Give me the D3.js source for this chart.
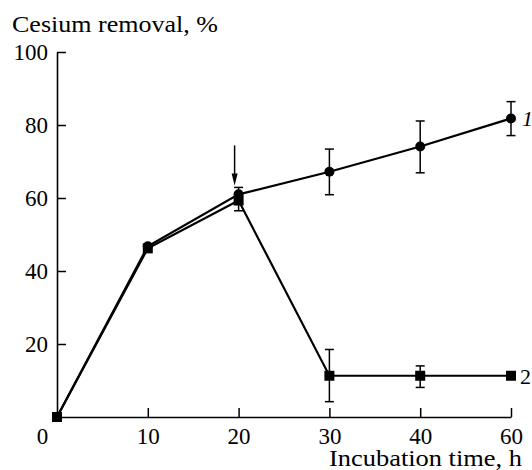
<!DOCTYPE html>
<html>
<head>
<meta charset="utf-8">
<script src="https://cdn.jsdelivr.net/npm/d3@7"></script>
<style>
  body { margin: 0; background: #fff; }
</style>
</head>
<body>
<div id="chart"></div>
<script>
const times = [0, 10, 20, 30, 40, 60];
const yTicks = [20, 40, 60, 80, 100];

// curve 1 (circles)
const series1 = [0, 46.8, 61.0, 67.2, 74.1, 81.8];
const err1Low = [null, null, 56.5, 60.9, 66.9, 77.1];
const err1High = [null, null, 62.9, 73.4, 81.1, 86.4];

// curve 2 (squares)
const series2 = [0, 46.2, 59.3, 11.3, 11.3, 11.3];
const err2Low = [null, null, null, 4.2, 8.1, null];
const err2High = [null, null, null, 18.5, 14.0, null];

const width = 532, height = 470;
const margin = {top: 52, left: 57, right: 21, bottom: 53};
const font = "'Liberation Serif', 'Times New Roman', 'DejaVu Serif', serif";

const svg = d3.select("#chart").append("svg")
  .attr("width", width)
  .attr("height", height)
  .attr("font-family", font);

const x = d3.scalePoint()
  .domain(times)
  .range([margin.left, width - margin.right]);
const y = d3.scaleLinear()
  .domain([0, 100])
  .range([height - margin.bottom, margin.top]);

// axes
const xAxis = svg.append("g")
  .attr("transform", `translate(0,${y(0)})`)
  .call(d3.axisBottom(x).tickSizeInner(-9).tickSizeOuter(0).tickPadding(11));
xAxis.attr("font-family", font).attr("font-size", 23);
xAxis.select(".domain").attr("stroke-width", 1.6);
xAxis.selectAll(".tick line").attr("stroke-width", 1.5);
xAxis.selectAll(".tick").filter(d => d === 0).select("line").remove();
xAxis.selectAll(".tick text")
  .attr("dy", "0.71em")
  .attr("x", d => d === 0 ? -15 : 0);

const yAxis = svg.append("g")
  .attr("transform", `translate(${x(0)},0)`)
  .call(d3.axisLeft(y).tickValues(yTicks).tickSizeInner(-9).tickSizeOuter(0).tickPadding(9));
yAxis.attr("font-family", font).attr("font-size", 23);
yAxis.select(".domain").attr("stroke-width", 1.6);
yAxis.selectAll(".tick line").attr("stroke-width", 1.5);

svg.append("text")
  .attr("x", 12)
  .attr("y", 32)
  .attr("font-size", 24)
  .attr("textLength", 206)
  .attr("lengthAdjust", "spacingAndGlyphs")
  .text("Cesium removal, %");

svg.append("text")
  .attr("x", 329)
  .attr("y", 466)
  .attr("font-size", 24)
  .attr("textLength", 193)
  .attr("lengthAdjust", "spacingAndGlyphs")
  .text("Incubation time, h");

// lines
const line = (vals) => d3.line()
  .x((d, i) => x(times[i]))
  .y(d => y(d))(vals);

svg.append("path")
  .attr("d", line(series1))
  .attr("fill", "none")
  .attr("stroke", "#000")
  .attr("stroke-width", 2.2);
svg.append("path")
  .attr("d", line(series2))
  .attr("fill", "none")
  .attr("stroke", "#000")
  .attr("stroke-width", 2.2);

// error bars
function errorBars(low, high){
  const g = svg.append("g").attr("stroke", "#000").attr("stroke-width", 1.5);
  times.forEach((t, i) => {
    if(low[i] == null) return;
    const cx = x(t);
    g.append("line").attr("x1", cx).attr("x2", cx).attr("y1", y(low[i])).attr("y2", y(high[i]));
    g.append("line").attr("x1", cx - 4.5).attr("x2", cx + 4.5).attr("y1", y(low[i])).attr("y2", y(low[i]));
    g.append("line").attr("x1", cx - 4.5).attr("x2", cx + 4.5).attr("y1", y(high[i])).attr("y2", y(high[i]));
  });
}
errorBars(err1Low, err1High);
errorBars(err2Low, err2High);

// markers
svg.append("g").selectAll("circle")
  .data(series1)
  .enter()
  .append("circle")
  .attr("cx", (d, i) => x(times[i]))
  .attr("cy", d => y(d))
  .attr("r", 5)
  .attr("fill", "#000");

const sq = 10;
svg.append("g").selectAll("rect")
  .data(series2)
  .enter()
  .append("rect")
  .attr("x", (d, i) => x(times[i]) - sq / 2)
  .attr("y", d => y(d) - sq / 2)
  .attr("width", sq)
  .attr("height", sq)
  .attr("fill", "#000");

// curve labels
svg.append("text")
  .attr("x", x(60) + 11)
  .attr("y", y(series1[5]) + 8)
  .attr("font-size", 22)
  .attr("font-style", "italic")
  .text("1");
svg.append("text")
  .attr("x", x(60) + 9)
  .attr("y", y(series2[5]) + 8)
  .attr("font-size", 22)
  .text("2");

// arrow at 20 h
const ax = x(20) - 4;
const tipY = y(62.9) - 2;
svg.append("line")
  .attr("x1", ax).attr("x2", ax)
  .attr("y1", tipY - 40).attr("y2", tipY - 8)
  .attr("stroke", "#000")
  .attr("stroke-width", 1.5);
svg.append("path")
  .attr("d", `M${ax - 3},${tipY - 12} L${ax + 3},${tipY - 12} L${ax},${tipY} Z`)
  .attr("fill", "#000");
</script>
</body>
</html>
